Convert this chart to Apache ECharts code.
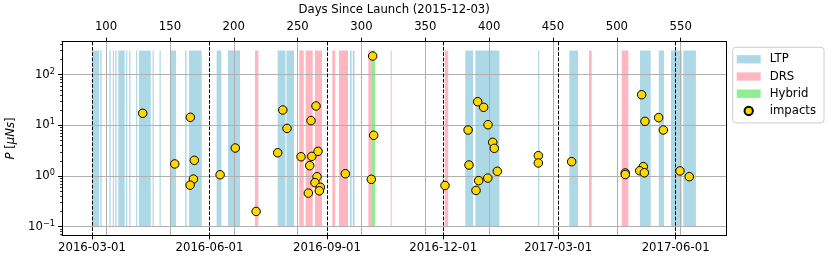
<!DOCTYPE html>
<html>
<head>
<meta charset="utf-8">
<script src="https://cdn.jsdelivr.net/npm/echarts@6/dist/echarts.min.js"></script>
<style>html,body{margin:0;padding:0;background:#fff}#c{width:830px;height:265px}</style>
</head>
<body>
<div id="c"></div>
<script>
// ---- data (days since launch 2015-12-03) ----
const launchDate = '2015-12-03';
const dateTickLabels = ['2016-03-01','2016-06-01','2016-09-01','2016-12-01','2017-03-01','2017-06-01'];
const dayTicks = [100,150,200,250,300,350,400,450,500,550];
const yMajorTicks = [0.1,1,10,100];
const yMinorTicks = [0.07,0.08,0.09,0.2,0.3,0.4,0.5,0.6,0.7,0.8,0.9,2,3,4,5,6,7,8,9,20,30,40,50,60,70,80,90,200,300,400];

const ltpBands = [[89.3,94.7],[95.5,96.6],[102.6,103.6],[105.3,106.2],[107.2,108.2],[109.6,114.6],[115.7,116.6],[118.1,119.1],[123.5,124.4],[125.8,135.0],[136.4,137.3],[141.9,142.8],[150.1,154.8],[161.9,163.0],[165.0,174.9],[186.6,190.3],[195.5,204.9],[234.4,240.5],[241.3,247.2],[291.0,292.3],[293.2,294.6],[381.3,387.5],[389.2,408.0],[438.3,439.3],[462.8,469.6],[518.1,526.5],[532.8,536.9],[542.4,550.8],[552.0,561.9]];
const drsBands = [[216.6,219.3],[251.3,254.8],[256.3,261.8],[263.6,269.1],[277.2,279.5],[282.4,289.5],[305.4,307.6],[322.9,323.7],[365.2,367.9],[478.2,480.3],[503.8,509.0]];
const hybridBands = [[307.6,310.6]];

const impactDays = [128.7,153.8,166.0,169.1,168.4,165.8,189.3,201.2,217.5,234.4,238.4,241.7,264.4,260.5,252.7,261.1,266.0,259.5,265.2,263.6,267.8,267.0,258.4,287.4,308.8,309.6,307.7,365.4,391.0,395.7,399.1,383.5,402.8,404.0,384.2,406.4,391.8,398.9,389.7,438.5,438.5,464.6,506.6,506.6,519.4,522.0,532.7,536.4,520.7,517.9,521.5,549.4,556.7];
const impactValues = [17.3,1.73,14.4,2.04,0.87,0.66,1.06,3.57,0.20,2.88,20.1,8.7,24.1,12.4,2.40,2.44,3.07,1.60,0.97,0.74,0.60,0.51,0.46,1.11,233,6.36,0.86,0.65,29.3,22.7,10.3,8.09,4.62,3.52,1.65,1.24,0.81,0.91,0.52,2.52,1.81,1.92,1.15,1.07,40.2,12.0,14.2,8.09,1.53,1.27,1.16,1.26,0.97];

// ---- layout / ranges ----
const xMin = 65.5, xMax = 585.7;
const yMin = 0.0676, yMax = 447.7;
const bandTop = 300, bandBottom = 0.1;
const FONT = 'DejaVu Sans';
const FS = 11.7;

const launchMs = Date.parse(launchDate + 'T00:00:00Z');
const dayOf = s => (Date.parse(s + 'T00:00:00Z') - launchMs) / 86400000;
const dateTickDays = dateTickLabels.map(dayOf);

function bandRender(params, api) {
  const a = api.coord([api.value(0), bandTop]);
  const b = api.coord([api.value(1), bandBottom]);
  return {type: 'rect', shape: {x: a[0], y: a[1], width: b[0] - a[0], height: b[1] - a[1]},
          style: {fill: api.visual('color')}};
}
function bandSeries(name, data, color) {
  return {type: 'custom', name: name, data: data, renderItem: bandRender, z: 1,
          encode: {x: [0, 1]}, itemStyle: {color: color}, clip: true, silent: true};
}
const gray = {color: '#b0b0b0', width: 1};
const txt = {fontFamily: FONT, fontSize: FS, color: '#000'};

const chart = echarts.init(document.getElementById('c'), null, {renderer: 'canvas'});
chart.setOption({
  animation: false,
  textStyle: {fontFamily: FONT},
  grid: {left: 62, right: 103.7, top: 41.7, bottom: 29.7, containLabel: false, outerBoundsMode: 'none'},
  legend: {
    orient: 'vertical', left: 732.7, top: 47.3,
    padding: [6, 8, 6, 4], itemWidth: 24, itemHeight: 8.3, itemGap: 5.2,
    backgroundColor: 'rgba(255,255,255,0.8)', borderColor: '#cccccc', borderWidth: 1, borderRadius: 3,
    textStyle: Object.assign({padding: [0, 0, 0, 4]}, txt),
    data: [{name: 'LTP', icon: 'rect'}, {name: 'DRS', icon: 'rect'}, {name: 'Hybrid', icon: 'rect'}, {name: 'impacts', icon: 'circle'}]
  },
  xAxis: [
    {type: 'value', position: 'bottom', min: xMin, max: xMax, z: 3,
     axisLine: {show: true, onZero: false, lineStyle: {color: '#000', width: 1}},
     axisTick: {show: true, length: 4, customValues: dateTickDays, lineStyle: {color: '#000', width: 1}},
     axisLabel: Object.assign({customValues: dateTickDays, margin: 7,
       formatter: v => { const i = dateTickDays.findIndex(d => Math.abs(d - v) < 0.01); return i >= 0 ? dateTickLabels[i] : ''; }}, txt),
     splitLine: {show: true, lineStyle: {color: '#000', width: 1, type: [3.7, 1.6]}}},
    {type: 'value', position: 'top', min: xMin, max: xMax, z: 3,
     name: 'Days Since Launch (2015-12-03)', nameLocation: 'middle', nameGap: 22, nameTextStyle: txt,
     axisLine: {show: true, onZero: false, lineStyle: {color: '#000', width: 1}},
     axisTick: {show: true, length: 4, customValues: dayTicks, lineStyle: {color: '#000', width: 1}},
     axisLabel: Object.assign({customValues: dayTicks, margin: 8.5, formatter: v => String(Math.round(v))}, txt),
     splitLine: {show: true, lineStyle: gray}}
  ],
  yAxis: [
    {type: 'log', logBase: 10, position: 'left', min: yMin, max: yMax, z: 3,
     name: '{i|P} [{i|μNs}]', nameLocation: 'middle', nameGap: 39, nameRotate: 90,
     nameTextStyle: Object.assign({rich: {i: {fontStyle: 'italic', fontFamily: FONT, fontSize: FS}}}, txt),
     axisLine: {show: true, onZero: false, lineStyle: {color: '#000', width: 1}},
     axisTick: {show: true, length: 4, customValues: yMajorTicks, lineStyle: {color: '#000', width: 1}},
     axisLabel: {customValues: yMajorTicks, margin: 7,
       formatter: v => { const e = Math.round(Math.log10(v)); return '{b|10}{s|' + (e < 0 ? '\u2212' + (-e) : e) + '}'; },
       rich: {b: {fontFamily: FONT, fontSize: FS, color: '#000', lineHeight: 14, verticalAlign: 'middle'},
              s: {fontFamily: FONT, fontSize: 8.2, color: '#000', lineHeight: 14, verticalAlign: 'top'}}},
     splitLine: {show: true, lineStyle: gray}},
    {type: 'log', logBase: 10, position: 'right', min: yMin, max: yMax, z: 3,
     axisLine: {show: true, onZero: false, lineStyle: {color: '#000', width: 1}},
     axisTick: {show: false}, axisLabel: {show: false}, splitLine: {show: false}},
    {type: 'log', logBase: 10, position: 'left', min: yMin, max: yMax, z: 3,
     axisLine: {show: false},
     axisTick: {show: true, length: 2, customValues: yMinorTicks, lineStyle: {color: '#000', width: 0.8}},
     axisLabel: {show: false}, splitLine: {show: false}}
  ],
  series: [
    bandSeries('LTP', ltpBands, '#ADD8E6'),
    bandSeries('DRS', drsBands, '#FFB6C1'),
    bandSeries('Hybrid', hybridBands, '#90EE90'),
    {type: 'scatter', name: 'impacts', z: 5, symbol: 'circle', symbolSize: 8.5,
     data: impactDays.map((d, i) => [d, impactValues[i]]),
     itemStyle: {color: '#FFD700', borderColor: '#000', borderWidth: 1, opacity: 1}}
  ]
});
</script>
</body>
</html>
